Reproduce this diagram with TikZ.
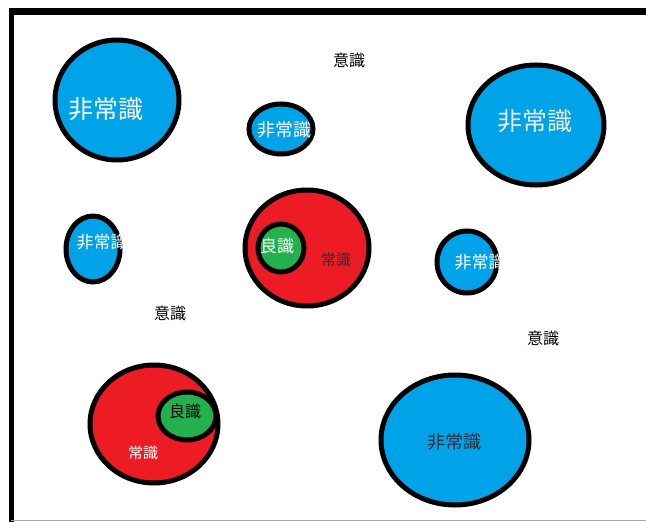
\documentclass[tikz,border=0pt]{standalone}
\usepackage{fontspec}
\newfontfamily\cjk{Noto Sans CJK JP}
\usetikzlibrary{shapes.geometric}
\definecolor{pblue}{RGB}{0,162,232}
\definecolor{pred}{RGB}{237,28,36}
\definecolor{pgreen}{RGB}{34,177,76}
\definecolor{darktxt}{RGB}{45,45,55}
\tikzset{
  blob/.style={ellipse, draw=black, line width=5pt, inner sep=0pt},
  bluebl/.style={blob, fill=pblue},
  redbl/.style={blob, fill=pred},
  greenbl/.style={blob, fill=pgreen},
  lbl/.style={font=\cjk, inner sep=0pt, text=white},
  dlbl/.style={font=\cjk, inner sep=0pt, text=darktxt},
}
\begin{document}
\begin{tikzpicture}[x=1pt,y=-1pt]
\useasboundingbox (0,0) rectangle (646,522);
% frame
\draw[line width=7pt] (9,11.5) -- (646,11.5);
\draw[line width=5pt] (11.5,8) -- (11.5,522);
\draw[line width=1.2pt, gray!70] (11,520.5) -- (646,520.5);

% blue circles
\node[bluebl, minimum width=124pt, minimum height=120pt] (b1) at (117,100) {};
\node[bluebl, minimum width=64pt, minimum height=50pt] (b2) at (281,129) {};
\node[bluebl, minimum width=136pt, minimum height=120pt] (b3) at (536,125) {};
\node[bluebl, minimum width=54pt, minimum height=66pt] (b4) at (93,249) {};
\node[bluebl, minimum width=60pt, minimum height=62pt] (b5) at (467,262) {};
\node[bluebl, minimum width=148pt, minimum height=130pt] (b6) at (455,440) {};

% red circles with green inner
\node[redbl, minimum width=124pt, minimum height=116pt] (r1) at (307,248) {};
\node[greenbl, minimum width=46pt, minimum height=48pt] (g1) at (281,248) {};
\node[redbl, minimum width=128pt, minimum height=118pt] (r2) at (154,424) {};
\node[greenbl, minimum width=58pt, minimum height=48pt] (g2) at (187,416) {};

% labels
\node[lbl, font=\cjk\fontsize{25}{25}\selectfont] (t1) at (106,109) {非常識};
\node[lbl, font=\cjk\fontsize{18}{18}\selectfont] (t2) at (284,130) {非常識};
\node[lbl, font=\cjk\fontsize{25}{25}\selectfont, text=white!92!black] (t3) at (535,121) {非常識};
\node[lbl, font=\cjk\fontsize{17}{17}\selectfont] (t4) at (102,242) {非常識};
\node[lbl, font=\cjk\fontsize{17}{17}\selectfont] (t5) at (480,262) {非常識};
\node[dlbl, font=\cjk\fontsize{18}{18}\selectfont] (t6) at (454,442) {非常識};

\node[lbl, font=\cjk\fontsize{17}{17}\selectfont] (t7) at (277,246) {良識};
\node[dlbl, font=\cjk\fontsize{15}{15}\selectfont] (t8) at (336,260) {常識};
\node[dlbl, font=\cjk\fontsize{16}{16}\selectfont, text=black] (t9) at (185,411) {良識};
\node[lbl, font=\cjk\fontsize{15}{15}\selectfont] (t10) at (143,453) {常識};

\node[dlbl, font=\cjk\fontsize{16}{16}\selectfont, text=black] (i1) at (349,60) {意識};
\node[dlbl, font=\cjk\fontsize{16}{16}\selectfont, text=black] (i2) at (170,313) {意識};
\node[dlbl, font=\cjk\fontsize{16}{16}\selectfont, text=black] (i3) at (543,338) {意識};
\end{tikzpicture}
\end{document}
